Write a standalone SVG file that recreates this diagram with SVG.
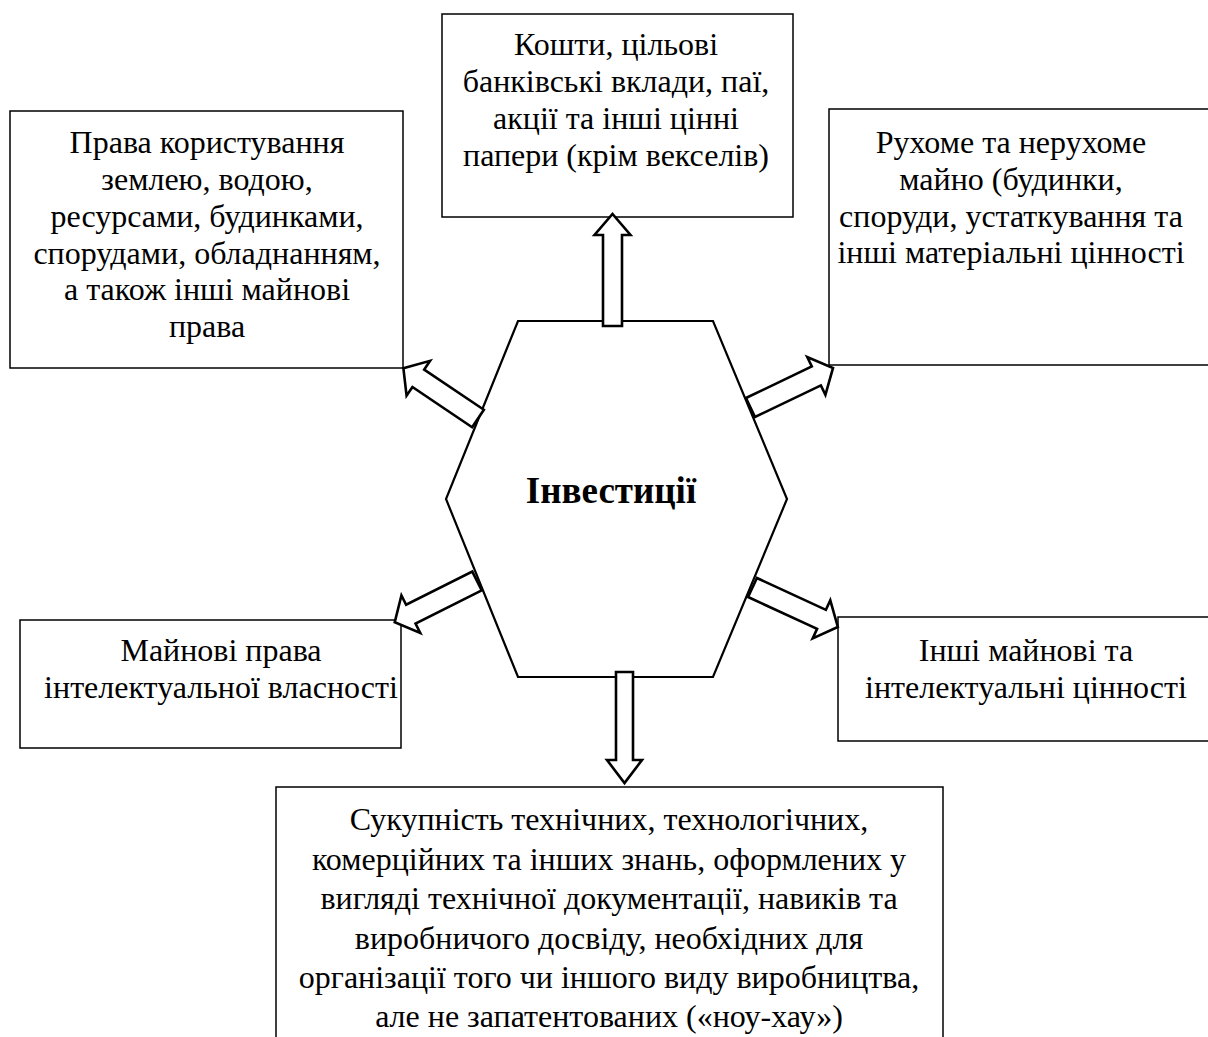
<svg xmlns="http://www.w3.org/2000/svg" width="1208" height="1037" viewBox="0 0 1208 1037">
<style>
.box{fill:#fff;stroke:#000;stroke-width:1.5}
.hex{fill:#fff;stroke:#000;stroke-width:2.2}
.arr{fill:#fff;stroke:#000;stroke-width:2.6;stroke-linejoin:miter}
.t{font-family:"Liberation Serif","Times New Roman",serif;font-size:32px;fill:#000;text-anchor:middle}
.tb{font-family:"Liberation Serif","Times New Roman",serif;font-size:37px;font-weight:bold;fill:#000;text-anchor:middle}
</style>
<rect width="1208" height="1037" fill="#fff"/>
<g id="box-top">
<rect class="box" x="442" y="14" width="351" height="203"/>
<text class="t" x="616" y="55">Кошти, цільові</text>
<text class="t" x="616" y="92">банківські вклади, паї,</text>
<text class="t" x="616" y="129">акції та інші цінні</text>
<text class="t" x="616" y="166">папери (крім векселів)</text>
</g>
<g id="box-left-top">
<rect class="box" x="10" y="111" width="393" height="257"/>
<text class="t" x="207" y="153">Права користування</text>
<text class="t" x="207" y="190">землею, водою,</text>
<text class="t" x="207" y="227">ресурсами, будинками,</text>
<text class="t" x="207" y="264">спорудами, обладнанням,</text>
<text class="t" x="207" y="300">а також інші майнові</text>
<text class="t" x="207" y="337">права</text>
</g>
<g id="box-right-top">
<rect class="box" x="829" y="109" width="390" height="256"/>
<text class="t" x="1011" y="153">Рухоме та нерухоме</text>
<text class="t" x="1011" y="190">майно (будинки,</text>
<text class="t" x="1011" y="227">споруди, устаткування та</text>
<text class="t" x="1011" y="263">інші матеріальні цінності</text>
</g>
<g id="box-left-bottom">
<rect class="box" x="20" y="620" width="381" height="128"/>
<text class="t" x="221" y="661">Майнові права</text>
<text class="t" x="221" y="698">інтелектуальної власності</text>
</g>
<g id="box-right-bottom">
<rect class="box" x="838" y="617" width="380" height="124"/>
<text class="t" x="1026" y="661">Інші майнові та</text>
<text class="t" x="1026" y="698">інтелектуальні цінності</text>
</g>
<g id="box-bottom">
<rect class="box" x="276" y="787" width="667" height="270"/>
<text class="t" x="609" y="830">Сукупність технічних, технологічних,</text>
<text class="t" x="609" y="869.5">комерційних та інших знань, оформлених у</text>
<text class="t" x="609" y="909">вигляді технічної документації, навиків та</text>
<text class="t" x="609" y="948.5">виробничого досвіду, необхідних для</text>
<text class="t" x="609" y="988">організації того чи іншого виду виробництва,</text>
<text class="t" x="609" y="1027">але не запатентованих («ноу-хау»)</text>
</g>
<g id="hexagon">
<polygon class="hex" points="518,321 713,321 787,499 713,677 518,677 446,499"/>
<text class="tb" x="611" y="503">Інвестиції</text>
</g>
<g id="connectors">
<path class="arr" transform="translate(612.5,326) rotate(-90)" d="M0,-9.5 L91,-9.5 L91,-18 L112,0 L91,18 L91,9.5 L0,9.5 Z"/>
<path class="arr" transform="translate(624.5,672) rotate(90)" d="M0,-8.5 L88,-8.5 L88,-17.5 L111,0 L88,17.5 L88,8.5 L0,8.5 Z"/>
<path class="arr" transform="translate(478,418.5) rotate(214)" d="M0,-10.5 L72,-10.5 L72,-21 L90,0 L72,21 L72,10.5 L0,10.5 Z"/>
<path class="arr" transform="translate(750.5,407.5) rotate(-25.6)" d="M0,-10.5 L73,-10.5 L73,-21 L91.5,0 L73,21 L73,10.5 L0,10.5 Z"/>
<path class="arr" transform="translate(477,581) rotate(153.4)" d="M0,-10.5 L74,-10.5 L74,-21 L92,0 L74,21 L74,10.5 L0,10.5 Z"/>
<path class="arr" transform="translate(752.5,587.5) rotate(24.8)" d="M0,-10.5 L76,-10.5 L76,-21 L94,0 L76,21 L76,10.5 L0,10.5 Z"/>
</g>
</svg>
